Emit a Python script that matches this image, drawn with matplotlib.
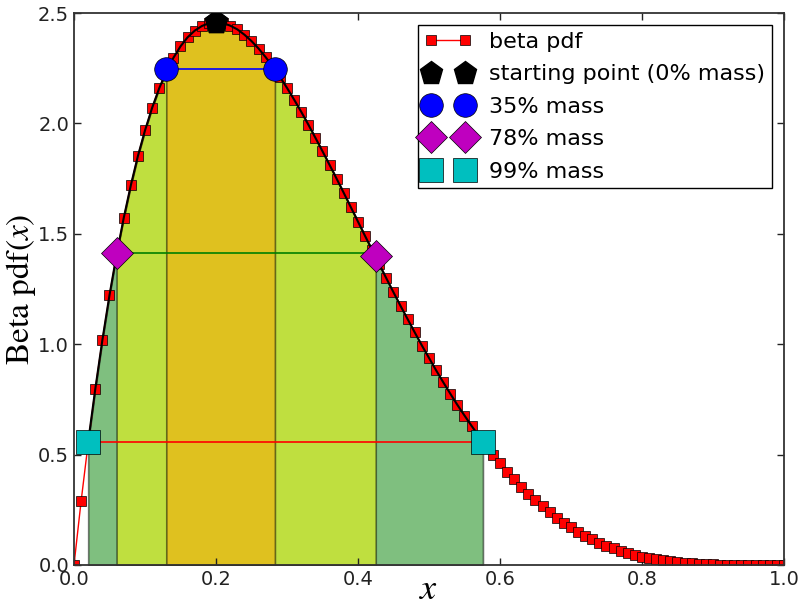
import numpy as np
import matplotlib
matplotlib.use("Agg")
import matplotlib.pyplot as plt

# beta pdf samples (x step 0.01)
x_grid = [i / 100 for i in range(101)]
pdf_vals = [
    0.000, 0.288, 0.553, 0.797, 1.019, 1.222, 1.405, 1.571, 1.719, 1.852,
    1.968, 2.070, 2.159, 2.234, 2.297, 2.349, 2.390, 2.420, 2.441, 2.454,
    2.458, 2.454, 2.443, 2.426, 2.402, 2.373, 2.339, 2.300, 2.257, 2.211,
    2.161, 2.108, 2.053, 1.995, 1.935, 1.874, 1.812, 1.749, 1.685, 1.620,
    1.555, 1.490, 1.426, 1.362, 1.298, 1.235, 1.173, 1.113, 1.053, 0.994,
    0.938, 0.882, 0.828, 0.776, 0.725, 0.677, 0.630, 0.585, 0.541, 0.500,
    0.461, 0.423, 0.388, 0.354, 0.322, 0.293, 0.265, 0.238, 0.214, 0.191,
    0.170, 0.151, 0.133, 0.116, 0.101, 0.088, 0.076, 0.065, 0.055, 0.046,
    0.038, 0.032, 0.026, 0.021, 0.017, 0.013, 0.010, 0.007, 0.005, 0.004,
    0.003, 0.002, 0.001, 0.001, 0.000, 0.000, 0.000, 0.000, 0.000, 0.000,
    0.000,
]

# starting point (mode)
start_x = [0.2, 0.2]
start_y = [2.458, 2.458]

# interval end points for each mass level: (left, right)
mass_labels = ["35% mass", "78% mass", "99% mass"]
lo_x = [0.13, 0.06, 0.02]
hi_x = [0.283, 0.425, 0.576]
lo_y = [2.245, 1.415, 0.558]
hi_y = [2.245, 1.400, 0.558]
level_y = [2.245, 1.415, 0.558]

fill_colors = ["orange", "yellow", "g"]
line_colors = ["b", "g", "r"]
marker_styles = ["o", "D", "s"]
marker_colors = ["b", "m", "c"]

x_grid = np.array(x_grid)
pdf_vals = np.array(pdf_vals)

plt.rcParams["mathtext.fontset"] = "stix"

fig = plt.figure(figsize=(7.99, 6.06), dpi=100)
ax = fig.add_axes([0.0926, 0.0677, 0.8886, 0.9108])

# shaded regions, widest first
for i in [2, 1, 0]:
    inside = (x_grid > lo_x[i]) & (x_grid < hi_x[i])
    xs = np.concatenate([[lo_x[i]], x_grid[inside], [hi_x[i]]])
    ys = np.concatenate([[lo_y[i]], pdf_vals[inside], [hi_y[i]]])
    ax.fill_between(xs, 0, ys, facecolor=fill_colors[i], alpha=0.5,
                    edgecolor=(0, 0, 0, 0.45), linewidth=1.2, zorder=1)

ax.plot(x_grid, pdf_vals, "-s", color="r", markersize=6.5, markeredgecolor="k",
        markeredgewidth=0.5, linewidth=1, label="beta pdf", zorder=2)

# black outline on top of the widest region
inside = (x_grid > lo_x[2]) & (x_grid < hi_x[2])
xs = np.concatenate([[lo_x[2]], x_grid[inside], [hi_x[2]]])
ys = np.concatenate([[lo_y[2]], pdf_vals[inside], [hi_y[2]]])
ax.plot(xs, ys, color="k", linewidth=1.5, zorder=3)

for i in range(3):
    ax.plot([lo_x[i], hi_x[i]], [level_y[i], level_y[i]], color=line_colors[i],
            linewidth=1.2, zorder=4)

ax.plot(start_x, start_y, "p", color="k", markersize=17, linestyle="none",
        label="starting point (0% mass)", zorder=5)
for i in range(3):
    ax.plot([lo_x[i], hi_x[i]], [lo_y[i], hi_y[i]], marker_styles[i],
            color=marker_colors[i], markersize=17 if marker_styles[i] != "D" else 16,
            markeredgecolor="k", markeredgewidth=0.5, linestyle="none",
            label=mass_labels[i], zorder=5)

ax.set_xlim(0, 1)
ax.set_ylim(0, 2.5)
ax.set_xticks([0.0, 0.2, 0.4, 0.6, 0.8, 1.0])
ax.set_yticks([0.0, 0.5, 1.0, 1.5, 2.0, 2.5])
ax.tick_params(direction="in", top=True, right=True, length=5, width=1,
               labelsize=14, colors="#222222", labelcolor="#222222")
for s in ax.spines.values():
    s.set_linewidth(1.3)
    s.set_color("#333333")

ax.set_xlabel("$x$", fontsize=26, va="center")
ax.xaxis.set_label_coords(0.5, -0.044)
ax.set_ylabel("Beta pdf$(x)$", fontsize=24, family="STIXGeneral", va="center")
ax.yaxis.set_label_coords(-0.074, 0.5)

ax.legend(loc="upper right", numpoints=2, fontsize=16, fancybox=False,
          edgecolor="k", framealpha=1, handlelength=2.1, handletextpad=0.8,
          labelspacing=0.56, borderaxespad=0.55, borderpad=0.3)

fig.savefig("out.png", dpi=100)
